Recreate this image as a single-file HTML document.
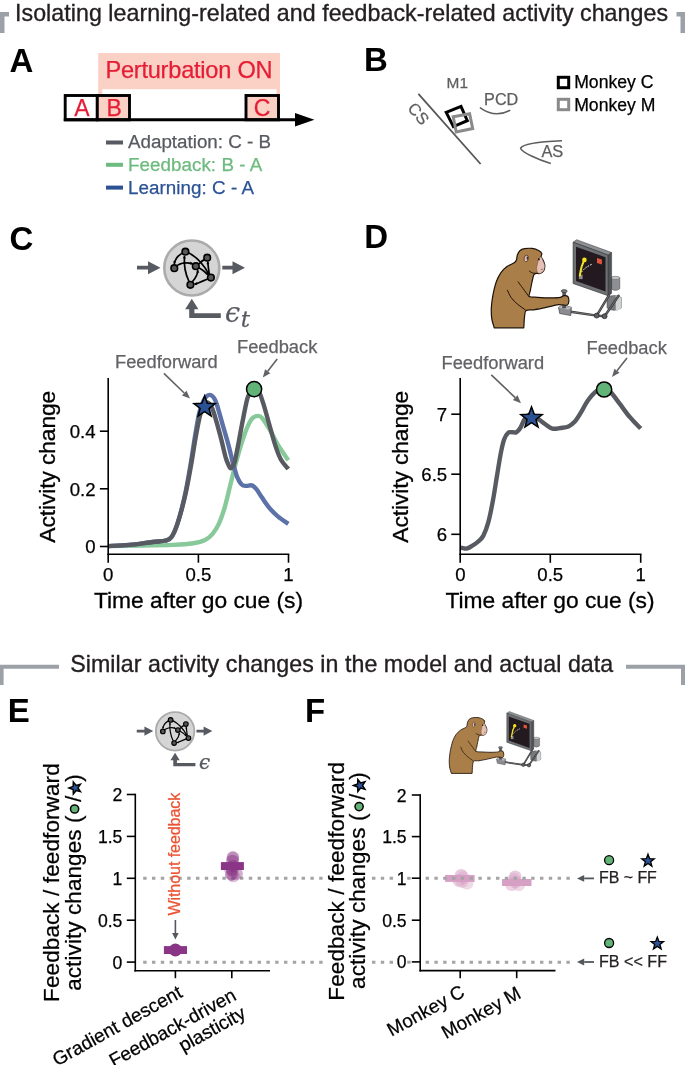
<!DOCTYPE html>
<html><head><meta charset="utf-8"><title>Figure</title>
<style>
html,body{margin:0;padding:0;background:#fff;}
svg{display:block;font-family:"Liberation Sans",sans-serif;}
.h{font-size:23.2px;fill:#231f20;stroke:#231f20;stroke-width:.35px;}
.pl{font-size:33px;font-weight:bold;fill:#000;}
.ax{font-size:22.8px;fill:#000;stroke:#000;stroke-width:.3px;}
.tk{font-size:17.6px;fill:#000;stroke:#000;stroke-width:.25px;}
.tk2{font-size:18.6px;fill:#000;stroke:#000;stroke-width:.25px;}
.an{font-size:18.3px;fill:#626266;stroke:#626266;stroke-width:.25px;}
</style></head><body>
<svg width="685" height="1065" viewBox="0 0 685 1065">
<rect width="685" height="1065" fill="#fff"/>

<path d="M0,33V12H9V16.5H4.5V33Z" fill="#9ba1a6"/>
<path d="M685,33V12H676.5V16.5H680.5V33Z" fill="#9ba1a6"/>
<text class="h" x="15" y="20.6" textLength="653" lengthAdjust="spacing">Isolating learning-related and feedback-related activity changes</text>
<path d="M0,685V664.7H59V668.8H3.6V685Z" fill="#9ba1a6"/>
<path d="M685,685V664.7H626V668.8H681V685Z" fill="#9ba1a6"/>
<text class="h" x="70.2" y="672" textLength="543" lengthAdjust="spacing">Similar activity changes in the model and actual data</text>
<text class="pl" x="9.6" y="71.5">A</text>
<text class="pl" x="364" y="71.3">B</text>
<text class="pl" x="9.6" y="249.5">C</text>
<text class="pl" x="364.3" y="248.4">D</text>
<text class="pl" x="7.8" y="722">E</text>
<text class="pl" x="305" y="722">F</text>
<g id="panelA">
<rect x="98.2" y="53" width="181.8" height="67" fill="#fbd0c5"/>
<rect x="102.2" y="89.2" width="174.3" height="30.8" fill="#fff"/>
<rect x="65.2" y="95.5" width="32.1" height="24.3" fill="#fff" stroke="#000" stroke-width="2.9"/>
<rect x="97.3" y="95.5" width="32.2" height="24.3" fill="#fbd0c5" stroke="#000" stroke-width="2.9"/>
<rect x="246" y="95.5" width="32.5" height="24.3" fill="#fbd0c5" stroke="#000" stroke-width="2.9"/>
<path d="M63.8,119.8H298" stroke="#000" stroke-width="2.9" fill="none"/>
<path d="M295,113.1L314.4,119.8L295,126.5Z" fill="#000"/>
<text x="105.4" y="78.1" font-size="23.6" fill="#e51d35" textLength="167.2" lengthAdjust="spacing" stroke="#e51d35" stroke-width="0.25">Perturbation ON</text>
<text x="81.8" y="116.1" font-size="23" fill="#e51d35" text-anchor="middle" stroke="#e51d35" stroke-width="0.25">A</text>
<text x="114.1" y="116.1" font-size="23" fill="#e51d35" text-anchor="middle" stroke="#e51d35" stroke-width="0.25">B</text>
<text x="262" y="116.1" font-size="23" fill="#e51d35" text-anchor="middle" stroke="#e51d35" stroke-width="0.25">C</text>
<rect x="106" y="140.5" width="17" height="4" fill="#585a62"/>
<text x="128" y="148.3" font-size="18.8" fill="#585a62" textLength="143" lengthAdjust="spacing" stroke="#585a62" stroke-width="0.25">Adaptation: C - B</text>
<rect x="106" y="162.8" width="17" height="4" fill="#6dbb7f"/>
<text x="128" y="170.6" font-size="18.8" fill="#6dbb7f" textLength="134.3" lengthAdjust="spacing" stroke="#6dbb7f" stroke-width="0.25">Feedback: B - A</text>
<rect x="106" y="185.6" width="17" height="4" fill="#2b5295"/>
<text x="128" y="193.6" font-size="18.8" fill="#2b5295" textLength="126.1" lengthAdjust="spacing" stroke="#2b5295" stroke-width="0.25">Learning: C - A</text>
</g>
<g id="panelB">
<path d="M418.4,93.9L480.6,164" stroke="#55565a" stroke-width="1.8" fill="none"/>
<text x="446.6" y="88" font-size="15.4" fill="#5e5e60" stroke="#5e5e60" stroke-width="0.25">M1</text>
<text x="484.1" y="105.3" font-size="16.2" fill="#5e5e60" stroke="#5e5e60" stroke-width="0.25">PCD</text>
<text x="541.4" y="156.8" font-size="16.4" fill="#5e5e60" stroke="#5e5e60" stroke-width="0.25">AS</text>
<text transform="translate(406.8,108.6) rotate(50)" font-size="16.4" fill="#5e5e60" stroke="#5e5e60" stroke-width="0.25">CS</text>
<path d="M479.9,107.6Q495,118.5 510.3,110.2" stroke="#5e5e60" stroke-width="1.5" fill="none"/>
<path d="M562,140.7C540,141.5 523,143.5 520.6,148.2C522,152.5 538,159.5 550.8,163.5" stroke="#5e5e60" stroke-width="1.5" fill="none"/>
<path d="M446.2,112.3L461,106.4L467.3,120.6L453.4,126.6Z" stroke="#000" stroke-width="3" fill="none"/>
<path d="M453.2,116.7L469.6,113.8L472.7,128.5L456.2,132Z" stroke="#8a8a8a" stroke-width="3" fill="none"/>
<rect x="558.3" y="77.3" width="10.4" height="10.4" stroke="#000" stroke-width="3" fill="#fff"/>
<rect x="558.3" y="99.3" width="10.4" height="10.4" stroke="#8a8a8a" stroke-width="3" fill="#fff"/>
<text x="574.2" y="88.3" font-size="17.6" fill="#000" stroke="#000" stroke-width="0.25">Monkey C</text>
<text x="574.2" y="110.5" font-size="17.6" fill="#000" stroke="#000" stroke-width="0.25">Monkey M</text>
</g>
<g transform="translate(0,0)">
<circle cx="191.8" cy="268" r="27.5" fill="#d5d5d5" stroke="#ababab" stroke-width="2.6"/>
<path d="M137,265.8H148V261.2L160.5,267.7L148,274.2V269.6H137Z" fill="#585a62"/>
<path d="M222.3,265.8H232.5V261.2L245,267.7L232.5,274.2V269.6H222.3Z" fill="#585a62"/>
<path d="M191.8,298.8L198.4,309.3H194.4V313.2H220.8V318H189.2V309.3H185.2Z" fill="#585a62"/>
<path d="M185.4,251.7C178.7,254.2 175.0,258.9 174.3,264.0" stroke="#000" stroke-width="1.7" fill="none"/>
<path d="M174.3,264.0L173.1,261.3L176.1,261.6Z" fill="#000"/>
<path d="M174.3,268.2C178.2,263.3 185.7,261.4 192.7,263.9" stroke="#000" stroke-width="1.7" fill="none"/>
<path d="M192.7,263.9L189.8,264.4L190.7,261.6Z" fill="#000"/>
<path d="M188.0,252.4C196.9,257.0 204.4,265.9 208.8,274.1" stroke="#000" stroke-width="1.7" fill="none"/>
<path d="M208.8,274.1L206.2,272.5L208.9,271.1Z" fill="#000"/>
<path d="M189.2,282.0C185.0,273.4 183.8,264.0 184.5,255.8" stroke="#000" stroke-width="1.7" fill="none"/>
<path d="M184.5,255.8L185.8,258.5L182.8,258.3Z" fill="#000"/>
<path d="M192.2,282.0C196.4,277.1 197.9,273.4 197.7,270.1" stroke="#000" stroke-width="1.7" fill="none"/>
<path d="M197.7,270.1L199.3,272.6L196.3,272.8Z" fill="#000"/>
<path d="M208.6,278.5C203.9,280.7 199.3,282.5 194.4,284.4" stroke="#000" stroke-width="1.7" fill="none"/>
<path d="M194.4,284.4L196.3,282.1L197.4,284.9Z" fill="#000"/>
<path d="M209.3,274.3C208.6,269.6 208.0,265.0 207.7,261.4" stroke="#000" stroke-width="1.7" fill="none"/>
<path d="M207.7,261.4L209.4,263.8L206.4,264.2Z" fill="#000"/>
<path d="M198.8,264.0C200.2,262.6 202.1,261.0 204.1,259.6" stroke="#000" stroke-width="1.7" fill="none"/>
<path d="M204.1,259.6L202.9,262.3L201.1,259.9Z" fill="#000"/>
<path d="M198.5,267.6C202.1,269.6 205.3,272.0 208.1,274.8" stroke="#000" stroke-width="1.7" fill="none"/>
<path d="M208.1,274.8L205.2,274.0L207.4,271.9Z" fill="#000"/>
<circle cx="185.4" cy="251.7" r="3.3" fill="#58585b" stroke="#000" stroke-width="1.6"/>
<circle cx="207.2" cy="257.7" r="3.3" fill="#58585b" stroke="#000" stroke-width="1.6"/>
<circle cx="174.3" cy="268.2" r="3.3" fill="#58585b" stroke="#000" stroke-width="1.6"/>
<circle cx="195.8" cy="266.2" r="3.3" fill="#58585b" stroke="#000" stroke-width="1.6"/>
<circle cx="210.9" cy="277.6" r="3.3" fill="#58585b" stroke="#000" stroke-width="1.6"/>
<circle cx="190.4" cy="284.8" r="3.3" fill="#58585b" stroke="#000" stroke-width="1.6"/>
</g>
<text x="225" y="321.5" font-family="'DejaVu Serif','Liberation Serif',serif" font-style="italic" font-size="27" fill="#585a62" stroke="#585a62" stroke-width="0.25">ϵ<tspan font-size="23" dy="5.5" dx="0.5">t</tspan></text>
<g transform="translate(40.84,543.71) scale(0.7)">
<circle cx="191.8" cy="268" r="27.5" fill="#d5d5d5" stroke="#ababab" stroke-width="2.6"/>
<path d="M137,265.8H148V261.2L160.5,267.7L148,274.2V269.6H137Z" fill="#585a62"/>
<path d="M222.3,265.8H232.5V261.2L245,267.7L232.5,274.2V269.6H222.3Z" fill="#585a62"/>
<path d="M191.8,298.8L198.4,309.3H194.4V313.2H220.8V318H189.2V309.3H185.2Z" fill="#585a62"/>
<path d="M185.4,251.7C178.7,254.2 175.0,258.9 174.3,264.0" stroke="#000" stroke-width="1.7" fill="none"/>
<path d="M174.3,264.0L173.1,261.3L176.1,261.6Z" fill="#000"/>
<path d="M174.3,268.2C178.2,263.3 185.7,261.4 192.7,263.9" stroke="#000" stroke-width="1.7" fill="none"/>
<path d="M192.7,263.9L189.8,264.4L190.7,261.6Z" fill="#000"/>
<path d="M188.0,252.4C196.9,257.0 204.4,265.9 208.8,274.1" stroke="#000" stroke-width="1.7" fill="none"/>
<path d="M208.8,274.1L206.2,272.5L208.9,271.1Z" fill="#000"/>
<path d="M189.2,282.0C185.0,273.4 183.8,264.0 184.5,255.8" stroke="#000" stroke-width="1.7" fill="none"/>
<path d="M184.5,255.8L185.8,258.5L182.8,258.3Z" fill="#000"/>
<path d="M192.2,282.0C196.4,277.1 197.9,273.4 197.7,270.1" stroke="#000" stroke-width="1.7" fill="none"/>
<path d="M197.7,270.1L199.3,272.6L196.3,272.8Z" fill="#000"/>
<path d="M208.6,278.5C203.9,280.7 199.3,282.5 194.4,284.4" stroke="#000" stroke-width="1.7" fill="none"/>
<path d="M194.4,284.4L196.3,282.1L197.4,284.9Z" fill="#000"/>
<path d="M209.3,274.3C208.6,269.6 208.0,265.0 207.7,261.4" stroke="#000" stroke-width="1.7" fill="none"/>
<path d="M207.7,261.4L209.4,263.8L206.4,264.2Z" fill="#000"/>
<path d="M198.8,264.0C200.2,262.6 202.1,261.0 204.1,259.6" stroke="#000" stroke-width="1.7" fill="none"/>
<path d="M204.1,259.6L202.9,262.3L201.1,259.9Z" fill="#000"/>
<path d="M198.5,267.6C202.1,269.6 205.3,272.0 208.1,274.8" stroke="#000" stroke-width="1.7" fill="none"/>
<path d="M208.1,274.8L205.2,274.0L207.4,271.9Z" fill="#000"/>
<circle cx="185.4" cy="251.7" r="3.3" fill="#58585b" stroke="#000" stroke-width="1.6"/>
<circle cx="207.2" cy="257.7" r="3.3" fill="#58585b" stroke="#000" stroke-width="1.6"/>
<circle cx="174.3" cy="268.2" r="3.3" fill="#58585b" stroke="#000" stroke-width="1.6"/>
<circle cx="195.8" cy="266.2" r="3.3" fill="#58585b" stroke="#000" stroke-width="1.6"/>
<circle cx="210.9" cy="277.6" r="3.3" fill="#58585b" stroke="#000" stroke-width="1.6"/>
<circle cx="190.4" cy="284.8" r="3.3" fill="#58585b" stroke="#000" stroke-width="1.6"/>
</g>
<text x="199" y="768.6" font-family="'DejaVu Serif','Liberation Serif',serif" font-style="italic" font-size="20" fill="#585a62" stroke="#585a62" stroke-width="0.25">ϵ</text>
<g id="panelC" fill="none" stroke-linejoin="round">
<path d="M108.2,546.1C114.1,546.0 133.0,545.7 143.8,545.5C154.6,545.3 164.7,545.3 173.0,544.9C181.3,544.5 188.1,544.0 193.4,543.2C198.8,542.3 201.9,541.5 205.1,540.0C208.3,538.5 210.1,536.8 212.4,534.1C214.7,531.4 216.7,528.5 218.8,523.9C220.9,519.3 223.0,513.2 225.0,506.4C227.0,499.6 229.1,489.8 230.8,483.0C232.5,476.2 233.5,471.8 235.2,465.5C236.9,459.2 239.1,451.2 241.0,445.1C242.9,439.0 244.8,433.4 246.6,429.0C248.4,424.6 250.0,421.0 251.8,418.8C253.7,416.6 256.0,416.0 257.7,415.9C259.4,415.7 260.1,415.7 262.0,417.9C264.0,420.1 266.7,424.5 269.3,429.0C272.0,433.5 274.9,439.9 278.1,445.1C281.3,450.3 286.6,457.7 288.3,460.3" stroke="#88c99a" stroke-width="4.4"/>
<path d="M108.2,546.1C111.7,545.9 121.8,545.6 129.2,544.9C136.6,544.2 146.5,542.7 152.6,542.0C158.6,541.3 162.5,541.4 165.7,540.5C168.9,539.7 169.6,539.8 171.5,537.0C173.5,534.3 175.2,530.5 177.4,523.9C179.5,517.3 182.3,506.9 184.4,497.6C186.5,488.4 188.1,479.1 189.9,468.4C191.8,457.7 193.9,442.9 195.5,433.4C197.1,423.9 198.1,417.2 199.6,411.5C201.1,405.8 202.9,401.7 204.5,398.9C206.2,396.2 207.9,395.0 209.5,394.9C211.0,394.7 212.7,396.2 213.9,397.8C215.1,399.3 215.3,399.7 216.8,404.2C218.2,408.7 220.7,417.8 222.6,424.6C224.6,431.4 226.8,438.7 228.5,445.1C230.2,451.4 231.4,457.2 232.8,462.6C234.3,467.9 235.8,473.5 237.2,477.2C238.7,480.8 240.1,483.0 241.6,484.5C243.1,485.9 244.3,485.8 246.0,485.9C247.7,486.1 250.1,484.9 251.8,485.4C253.5,485.9 254.5,486.8 256.2,488.9C257.9,490.9 259.9,494.5 262.0,497.6C264.2,500.8 266.7,504.7 269.3,507.8C272.0,511.0 274.9,513.9 278.1,516.6C281.3,519.3 286.6,522.7 288.3,523.9" stroke="#5b71a8" stroke-width="4.4"/>
<path d="M108.2,546.1C111.7,545.9 121.8,545.6 129.2,544.9C136.6,544.2 146.5,542.7 152.6,542.0C158.6,541.3 162.5,541.4 165.7,540.5C168.9,539.7 169.6,539.8 171.5,537.0C173.5,534.3 175.2,530.5 177.4,523.9C179.6,517.3 182.5,506.9 184.7,497.6C186.9,488.4 188.6,479.1 190.5,468.4C192.5,457.7 194.6,442.6 196.4,433.4C198.1,424.1 199.4,417.8 200.7,413.0C202.1,408.1 203.4,405.9 204.5,404.2C205.6,402.4 206.4,402.2 207.4,402.4C208.5,402.7 209.9,403.9 210.9,405.7C212.0,407.4 212.4,408.3 213.9,413.0C215.3,417.6 217.8,426.1 219.7,433.4C221.7,440.7 224.1,451.5 225.5,456.8C227.0,462.0 227.6,463.0 228.5,464.9C229.3,466.9 229.8,468.2 230.5,468.4C231.2,468.6 232.1,467.3 232.8,466.1C233.6,464.9 233.9,465.1 234.9,461.1C235.9,457.1 237.3,449.2 238.7,442.2C240.0,435.1 241.6,426.1 243.1,418.8C244.5,411.5 246.1,403.1 247.4,398.4C248.8,393.6 250.1,391.9 251.2,390.2C252.4,388.5 253.1,388.1 254.2,388.1C255.2,388.1 256.7,389.2 257.7,390.2C258.6,391.2 259.0,391.6 260.0,394.0C261.0,396.3 261.9,399.1 263.5,404.2C265.1,409.3 267.4,417.8 269.3,424.6C271.3,431.4 273.2,439.2 275.2,445.1C277.1,450.9 278.8,455.7 281.0,459.7C283.2,463.7 287.1,467.5 288.3,469.0" stroke="#585a62" stroke-width="4.4"/>
</g>
<g stroke="#000" stroke-width="1.6" fill="none">
<path d="M108.2,378V555"/>
<path d="M107.4,554.2H289.3"/>
<path d="M99.9,431.2H108.2"/>
<path d="M99.9,488.8H108.2"/>
<path d="M99.9,546.5H108.2"/>
<path d="M108.2,554.2V562.7"/>
<path d="M198.4,554.2V562.7"/>
<path d="M288.5,554.2V562.7"/>
</g>
<text class="tk2" x="95.6" y="438.09999999999997" text-anchor="end">0.4</text>
<text class="tk2" x="95.6" y="495.7" text-anchor="end">0.2</text>
<text class="tk2" x="95.6" y="553.4" text-anchor="end">0</text>
<text class="tk2" x="108.2" y="581.2" text-anchor="middle">0</text>
<text class="tk2" x="198.4" y="581.2" text-anchor="middle">0.5</text>
<text class="tk2" x="288.5" y="581.2" text-anchor="middle">1</text>
<text class="ax" x="198.5" y="608" text-anchor="middle" textLength="209" lengthAdjust="spacing">Time after go cue (s)</text>
<text class="ax" transform="translate(55.2,466.7) rotate(-90)" text-anchor="middle" textLength="152" lengthAdjust="spacing">Activity change</text>
<polygon points="204.60,395.80 207.36,403.19 215.25,403.54 209.07,408.45 211.18,416.06 204.60,411.70 198.02,416.06 200.13,408.45 193.95,403.54 201.84,403.19" fill="#2b5295" stroke="#000" stroke-width="1.5" stroke-linejoin="miter"/>
<circle cx="254.1" cy="389.1" r="7.6" fill="#62b377" stroke="#000" stroke-width="1.5"/>
<text class="an" x="115" y="367.9">Feedforward</text>
<text class="an" x="237" y="353.1">Feedback</text>
<path d="M163.9,373.4L184.2,393.0" stroke="#626266" stroke-width="1.6" fill="none"/><path d="M190.0,398.6L182.0,395.4L186.5,390.7Z" fill="#626266"/>
<path d="M277.2,358.9L267.7,371.2" stroke="#626266" stroke-width="1.6" fill="none"/><path d="M262.8,377.5L265.1,369.2L270.3,373.2Z" fill="#626266"/>
<path d="M460.2,547.4C460.9,547.6 462.9,548.2 464.1,548.4C465.3,548.6 466.0,548.8 467.3,548.4C468.6,548.0 470.2,547.0 472.1,545.8C474.0,544.7 476.7,543.1 478.5,541.3C480.4,539.6 481.7,538.7 483.4,535.6C485.0,532.5 486.6,528.6 488.2,522.7C489.8,516.8 491.5,508.3 493.0,500.2C494.5,492.2 495.8,482.6 497.2,474.6C498.5,466.5 499.8,458.0 501.0,452.1C502.2,446.2 503.0,442.4 504.2,439.2C505.4,436.0 506.7,434.0 508.1,432.8C509.4,431.6 510.9,432.3 512.3,432.2C513.6,432.1 515.1,432.9 516.4,432.2C517.8,431.5 519.0,430.0 520.3,428.0C521.6,426.0 522.8,422.1 524.1,420.0C525.5,417.8 526.8,415.9 528.3,415.1C529.8,414.3 531.3,414.3 533.1,415.1C535.0,415.9 537.4,418.4 539.6,420.0C541.7,421.6 543.8,423.3 546.0,424.8C548.1,426.2 550.0,428.1 552.4,428.6C554.8,429.2 557.7,428.4 560.4,428.0C563.1,427.6 566.0,427.5 568.5,426.4C570.9,425.3 572.7,424.0 574.9,421.6C577.0,419.2 579.2,415.4 581.3,411.9C583.4,408.5 585.3,404.1 587.7,400.7C590.1,397.3 593.1,393.7 595.7,391.7C598.4,389.7 601.4,388.5 603.8,388.5C606.2,388.5 607.5,389.1 610.2,391.7C612.9,394.3 616.6,399.7 619.8,403.9C623.0,408.1 626.0,412.6 629.5,416.7C632.9,420.9 638.8,426.6 640.7,428.6" stroke="#585a62" stroke-width="4.4" fill="none" stroke-linejoin="round"/>
<g stroke="#000" stroke-width="1.6" fill="none">
<path d="M460.2,378V555"/>
<path d="M459.4,554.3H641.5"/>
<path d="M451.3,414.2H460.2"/>
<path d="M451.3,474.2H460.2"/>
<path d="M451.3,534.3H460.2"/>
<path d="M460.2,554.3V562.8"/>
<path d="M550.3,554.3V562.8"/>
<path d="M640.7,554.3V562.8"/>
</g>
<text class="tk2" x="447.2" y="421.09999999999997" text-anchor="end">7</text>
<text class="tk2" x="447.2" y="481.09999999999997" text-anchor="end">6.5</text>
<text class="tk2" x="447.2" y="541.1999999999999" text-anchor="end">6</text>
<text class="tk2" x="460.4" y="581.2" text-anchor="middle">0</text>
<text class="tk2" x="550.3" y="581.2" text-anchor="middle">0.5</text>
<text class="tk2" x="640.7" y="581.2" text-anchor="middle">1</text>
<text class="ax" x="550" y="608" text-anchor="middle" textLength="209" lengthAdjust="spacing">Time after go cue (s)</text>
<text class="ax" transform="translate(407.8,466.7) rotate(-90)" text-anchor="middle" textLength="152" lengthAdjust="spacing">Activity change</text>
<polygon points="531.50,406.80 534.26,414.19 542.15,414.54 535.97,419.45 538.08,427.06 531.50,422.70 524.92,427.06 527.03,419.45 520.85,414.54 528.74,414.19" fill="#2b5295" stroke="#000" stroke-width="1.5"/>
<circle cx="604.1" cy="389.5" r="7.6" fill="#62b377" stroke="#000" stroke-width="1.5"/>
<text class="an" x="441.5" y="369">Feedforward</text>
<text class="an" x="586.5" y="353.5">Feedback</text>
<path d="M491.3,374.8L515.2,397.7" stroke="#626266" stroke-width="1.6" fill="none"/><path d="M521.0,403.2L512.9,400.1L517.5,395.3Z" fill="#626266"/>
<path d="M627.0,358.0L617.0,370.7" stroke="#626266" stroke-width="1.6" fill="none"/><path d="M612.0,377.0L614.4,368.7L619.5,372.8Z" fill="#626266"/>
<g id="panelE">
<circle cx="461.2" cy="875.3" r="6.4" fill="#d69fc4" fill-opacity="0.55"/>
<circle cx="459" cy="880.4" r="6.4" fill="#d69fc4" fill-opacity="0.5"/>
<circle cx="467" cy="883.2" r="6.4" fill="#d69fc4" fill-opacity="0.4"/>
<circle cx="462" cy="881.5" r="6.4" fill="#d69fc4" fill-opacity="0.4"/>
<circle cx="463.5" cy="877.5" r="6.4" fill="#d69fc4" fill-opacity="0.35"/>
<rect x="445.1" y="875" width="29.5" height="6.9" fill="#d69fc4"/>
<circle cx="515.2" cy="876.8" r="6.4" fill="#d69fc4" fill-opacity="0.55"/>
<circle cx="511.5" cy="884.6" r="6.4" fill="#d69fc4" fill-opacity="0.45"/>
<circle cx="518.8" cy="884.6" r="6.4" fill="#d69fc4" fill-opacity="0.4"/>
<circle cx="515.2" cy="881.9" r="6.4" fill="#d69fc4" fill-opacity="0.45"/>
<circle cx="514" cy="879.5" r="6.4" fill="#d69fc4" fill-opacity="0.35"/>
<rect x="502" y="879" width="29.5" height="7" fill="#d69fc4"/>
<path d="M143.2,878.3H322.6" stroke="#a4a4a4" stroke-width="3" stroke-dasharray="3.4 5.4" fill="none"/>
<path d="M372,878.3H393" stroke="#a4a4a4" stroke-width="3" stroke-dasharray="3.4 5.4" fill="none"/>
<path d="M407.2,878.3H410.6" stroke="#a4a4a4" stroke-width="3" stroke-dasharray="3.4 5.4" fill="none"/>
<path d="M425.6,878.3H569.8" stroke="#a4a4a4" stroke-width="3" stroke-dasharray="3.4 5.4" fill="none"/>
<path d="M143.2,962.2H322.6" stroke="#a4a4a4" stroke-width="3" stroke-dasharray="3.4 5.4" fill="none"/>
<path d="M372,962.2H393" stroke="#a4a4a4" stroke-width="3" stroke-dasharray="3.4 5.4" fill="none"/>
<path d="M407.2,962.2H410.6" stroke="#a4a4a4" stroke-width="3" stroke-dasharray="3.4 5.4" fill="none"/>
<path d="M425.6,962.2H569.8" stroke="#a4a4a4" stroke-width="3" stroke-dasharray="3.4 5.4" fill="none"/>
<g stroke="#000" stroke-width="1.6" fill="none">
<path d="M135.3,793.7V971.5"/>
<path d="M134.3,970.7H270"/>
<path d="M126.8,794.5H135.3"/>
<path d="M126.8,836.4H135.3"/>
<path d="M126.8,878.3H135.3"/>
<path d="M126.8,920.2H135.3"/>
<path d="M126.8,962.1H135.3"/>
<path d="M175.4,970.7V978.2"/>
<path d="M231.8,970.7V978.2"/>
</g>
<text class="tk" x="122.4" y="801.0" text-anchor="end">2</text>
<text class="tk" x="122.4" y="842.9" text-anchor="end">1.5</text>
<text class="tk" x="122.4" y="884.8" text-anchor="end">1</text>
<text class="tk" x="122.4" y="926.7" text-anchor="end">0.5</text>
<text class="tk" x="122.4" y="968.6" text-anchor="end">0</text>
<circle cx="175.4" cy="950" r="6.5" fill="#8a3585"/>
<rect x="163.9" y="946.1" width="23.1" height="7.9" fill="#8a3585"/>
<circle cx="232.9" cy="857.6" r="6.3" fill="#8a3585" fill-opacity="0.55"/>
<circle cx="232.5" cy="861" r="6.3" fill="#8a3585" fill-opacity="0.5"/>
<circle cx="233" cy="866" r="6.3" fill="#8a3585" fill-opacity="0.5"/>
<circle cx="232.2" cy="870" r="6.3" fill="#8a3585" fill-opacity="0.5"/>
<circle cx="231.4" cy="874.4" r="6.3" fill="#8a3585" fill-opacity="0.55"/>
<circle cx="236.6" cy="873.6" r="6.3" fill="#8a3585" fill-opacity="0.4"/>
<circle cx="233.5" cy="876" r="6.3" fill="#8a3585" fill-opacity="0.3"/>
<circle cx="229.5" cy="868" r="6.3" fill="#8a3585" fill-opacity="0.3"/>
<rect x="220.9" y="862.1" width="23" height="7.9" fill="#8a3585"/>
<text transform="translate(180.4,915.6) rotate(-90)" font-size="16.2" fill="#ea5434" textLength="123" lengthAdjust="spacing" stroke="#ea5434" stroke-width="0.25">Without feedback</text>
<path d="M175.4,920.0L175.4,933.1" stroke="#55575e" stroke-width="1.6" fill="none"/><path d="M175.4,939.5L172.1,933.1L178.7,933.1Z" fill="#55575e"/>
<text transform="translate(183.5,996.3) rotate(-29)" font-size="19" fill="#000" text-anchor="end" stroke="#000" stroke-width="0.25">Gradient descent</text>
<text transform="translate(237.5,999) rotate(-29)" font-size="19" fill="#000" text-anchor="end" stroke="#000" stroke-width="0.25">Feedback-driven</text>
<text transform="translate(247,1017) rotate(-29)" font-size="19" fill="#000" text-anchor="end" stroke="#000" stroke-width="0.25">plasticity</text>
<text transform="translate(59.3,1001.9) rotate(-90)" font-size="22.5" fill="#000" textLength="238.6" lengthAdjust="spacing" stroke="#000" stroke-width="0.25">Feedback / feedforward</text>
<text transform="translate(80.5,990.8) rotate(-90)" font-size="22.5" fill="#000" textLength="175.3" lengthAdjust="spacing" stroke="#000" stroke-width="0.25">activity changes (</text>
<text transform="translate(80.5,801.9) rotate(-90)" font-size="22.5" fill="#000" stroke="#000" stroke-width="0.25">/<tspan dx="13.9">)</tspan></text>
<circle cx="74.6" cy="809.0" r="4.1" fill="#62b377" stroke="#000" stroke-width="1.5"/>
<polygon points="69.00,787.90 73.16,786.34 73.35,781.91 76.12,785.38 80.40,784.20 77.95,787.90 80.40,791.60 76.12,790.42 73.35,793.89 73.16,789.46" fill="#2b5295" stroke="#000" stroke-width="1.5"/>
</g>
<g id="panelF">
<g stroke="#000" stroke-width="1.6" fill="none">
<path d="M420.2,794.2V971.4"/>
<path d="M419.5,970.6H555.5"/>
<path d="M411.8,795H420.3"/>
<path d="M411.8,836.6H420.3"/>
<path d="M411.8,878.2H420.3"/>
<path d="M411.8,920.2H420.3"/>
<path d="M411.8,961.9H420.3"/>
<path d="M460.2,970.6V978.2"/>
<path d="M516.7,970.6V978.2"/>
</g>
<text class="tk" x="406.6" y="801.5" text-anchor="end">2</text>
<text class="tk" x="406.6" y="843.1" text-anchor="end">1.5</text>
<text class="tk" x="406.6" y="884.7" text-anchor="end">1</text>
<text class="tk" x="406.6" y="926.7" text-anchor="end">0.5</text>
<text class="tk" x="406.6" y="968.4" text-anchor="end">0</text>
<text transform="translate(466,995.6) rotate(-29)" font-size="18.9" fill="#000" text-anchor="end" stroke="#000" stroke-width="0.25">Monkey C</text>
<text transform="translate(522.3,997) rotate(-29)" font-size="18.9" fill="#000" text-anchor="end" stroke="#000" stroke-width="0.25">Monkey M</text>
<text transform="translate(343.6,1000.7) rotate(-90)" font-size="22.5" fill="#000" textLength="238.6" lengthAdjust="spacing" stroke="#000" stroke-width="0.25">Feedback / feedforward</text>
<text transform="translate(365,988.9) rotate(-90)" font-size="22.5" fill="#000" textLength="175.3" lengthAdjust="spacing" stroke="#000" stroke-width="0.25">activity changes (</text>
<text transform="translate(365,800.0) rotate(-90)" font-size="22.5" fill="#000" stroke="#000" stroke-width="0.25">/<tspan dx="13.9">)</tspan></text>
<circle cx="359.1" cy="806.6" r="4.1" fill="#62b377" stroke="#000" stroke-width="1.5"/>
<polygon points="353.50,785.50 357.66,783.94 357.85,779.51 360.62,782.98 364.90,781.80 362.45,785.50 364.90,789.20 360.62,788.02 357.85,791.49 357.66,787.06" fill="#2b5295" stroke="#000" stroke-width="1.5"/>
<path d="M594.0,878.4L584.2,878.4" stroke="#55575e" stroke-width="1.8" fill="none"/><path d="M577.0,878.4L584.2,875.0L584.2,881.8Z" fill="#55575e"/>
<path d="M594.0,962.0L584.2,962.0" stroke="#55575e" stroke-width="1.8" fill="none"/><path d="M577.0,962.0L584.2,958.6L584.2,965.4Z" fill="#55575e"/>
<text x="599" y="883.2" font-size="15.9" fill="#231f20" stroke="#231f20" stroke-width="0.25">FB ~ FF</text>
<text x="599" y="966.6" font-size="16.1" fill="#231f20" stroke="#231f20" stroke-width="0.25">FB &lt;&lt; FF</text>
<circle cx="609.1" cy="860.2" r="4.5" fill="#62b377" stroke="#000" stroke-width="1.3"/>
<polygon points="648.00,854.20 649.63,858.56 654.28,858.76 650.64,861.66 651.88,866.14 648.00,863.57 644.12,866.14 645.36,861.66 641.72,858.76 646.37,858.56" fill="#2b5295" stroke="#000" stroke-width="1.3"/>
<circle cx="609.1" cy="943" r="4.5" fill="#62b377" stroke="#000" stroke-width="1.3"/>
<polygon points="657.30,937.00 658.93,941.36 663.58,941.56 659.94,944.46 661.18,948.94 657.30,946.37 653.42,948.94 654.66,944.46 651.02,941.56 655.67,941.36" fill="#2b5295" stroke="#000" stroke-width="1.3"/>
</g>
<g transform="translate(0,0)" stroke-linejoin="round">
<path d="M611.1,277.6V288.7Q615.4,292.2 619.8,288.7V277.6Z" fill="#8d8f92" stroke="#444" stroke-width="0.5"/>
<ellipse cx="615.4" cy="277.9" rx="4.4" ry="1.6" fill="#c4c6c8" stroke="#555" stroke-width="0.5"/>
<path d="M607.0,297.5V308.0Q614.0,312.7 621.3,308.0V297.5Q614.0,293.4 607.0,297.5Z" fill="#77797c" stroke="#444" stroke-width="0.5"/>
<path d="M615.7,295.7V310.9Q619.2,310.3 621.3,308.0V297.5Z" fill="#d0d2d4"/>
<polygon points="573.1,242.2 576.6,239.7 611.6,252.5 608.1,255.1" fill="#8e9194" stroke="#333" stroke-width="0.5"/>
<polygon points="608.1,255.1 611.6,252.5 611.6,293.4 608.1,295.7" fill="#505356" stroke="#333" stroke-width="0.5"/>
<polygon points="573.1,242.2 608.1,255.1 608.1,295.7 573.1,283.5" fill="#6e7174" stroke="#2a2a2a" stroke-width="0.6"/>
<polygon points="576.0,246.7 605.5,257.2 605.5,291.6 576.0,281.1" fill="#231a1f"/>
<rect x="578.9" y="274.7" width="3.7" height="4.4" fill="#8a8c8f"/>
<path d="M579.8,275.6Q580.9,266.5 584.4,259.9" stroke="#f4e51f" stroke-width="1.9" fill="none" stroke-linecap="round"/>
<circle cx="584.4" cy="259.9" r="2.3" fill="#f4e51f"/>
<path d="M581.6,272.1Q584.2,267.7 592.4,264.0" stroke="#fff" stroke-width="1" stroke-dasharray="1.7 1.1" fill="none"/>
<polygon points="597.0,258.1 601.9,259.5 601.9,264.4 597.0,263.0" fill="#e2553a"/>
<path d="M569.0,311.5L596.7,315.6" stroke="#3a3a3c" stroke-width="2.4" stroke-linecap="round"/>
<path d="M569.0,311.5L596.7,315.6" stroke="#77797c" stroke-width="0.9" stroke-linecap="round"/>
<path d="M596.7,315.6L609.0,295.1" stroke="#3a3a3c" stroke-width="2.4" stroke-linecap="round"/>
<path d="M596.7,315.6L609.0,295.1" stroke="#77797c" stroke-width="0.9" stroke-linecap="round"/>
<path d="M604.6,316.2L618.6,295.7" stroke="#3a3a3c" stroke-width="2.4" stroke-linecap="round"/>
<path d="M604.6,316.2L618.6,295.7" stroke="#77797c" stroke-width="0.9" stroke-linecap="round"/>
<path d="M596.7,315.6L604.6,316.2" stroke="#3a3a3c" stroke-width="2.4" stroke-linecap="round"/>
<path d="M596.7,315.6L604.6,316.2" stroke="#77797c" stroke-width="0.9" stroke-linecap="round"/>
<circle cx="596.7" cy="315.6" r="2.5" fill="#5c5e61" stroke="#222" stroke-width="0.7"/>
<circle cx="604.6" cy="316.2" r="2.5" fill="#5c5e61" stroke="#222" stroke-width="0.7"/>
<polygon points="558.5,307.4 562.0,305.1 571.4,307.2 570.8,315.6 559.7,313.5" fill="#8a8c8f" stroke="#333" stroke-width="0.6"/>
<polygon points="558.5,307.4 562.0,305.1 571.4,307.2 568.4,309.7" fill="#b5b7ba"/>
<rect x="562.7" y="291.6" width="3.0" height="16.4" fill="#58595b" stroke="#222" stroke-width="0.4"/>
<ellipse cx="564.2" cy="291.1" rx="3.0" ry="1.6" fill="#77797c" stroke="#222" stroke-width="0.5"/>
<path d="M494.2,327.8C493.9,326.5 492.2,321.6 491.8,318.8C491.4,316.1 491.2,311.6 491.3,308.3C491.5,305.0 492.2,298.9 492.9,295.2C493.6,291.5 495.1,285.2 496.2,282.0C497.3,278.9 499.2,275.1 500.8,272.8C502.3,270.6 505.4,267.7 507.3,266.3C509.3,264.8 513.3,263.5 514.6,262.6C515.9,261.7 516.1,260.8 516.5,259.7C516.9,258.7 516.9,256.4 517.3,255.1C517.8,253.9 518.8,251.7 519.8,250.8C520.8,249.9 522.7,249.0 524.4,248.7C526.2,248.3 530.3,248.2 532.3,248.4C534.3,248.7 537.3,249.8 538.6,250.5C539.9,251.2 541.4,252.5 541.8,253.4C542.1,254.3 540.9,255.8 541.1,256.8C541.3,257.9 543.0,259.8 543.5,261.0C544.0,262.3 544.8,264.2 544.8,265.6C544.8,267.0 544.3,269.8 543.6,270.9C542.9,272.0 541.0,273.2 539.9,273.5C538.9,273.9 536.9,273.1 536.0,273.4C535.1,273.6 534.2,274.0 533.6,275.2C533.1,276.4 532.5,279.9 532.0,282.0C531.6,284.2 530.7,288.6 530.3,290.6C530.0,292.6 528.4,295.6 529.4,296.5C530.4,297.4 534.6,297.1 537.6,297.3C540.5,297.5 547.5,297.8 550.7,297.8C553.9,297.8 558.7,297.6 560.5,297.3C562.4,297.0 562.8,295.8 563.8,295.7C564.8,295.6 567.1,295.7 567.8,296.5C568.5,297.3 568.9,300.3 568.8,301.5C568.7,302.7 568.6,304.7 567.1,305.2C565.7,305.6 561.8,304.3 558.6,304.6C555.4,305.0 547.6,307.1 544.1,307.8C540.6,308.5 536.2,309.4 533.6,309.8C531.1,310.1 527.3,309.4 526.0,310.4C524.7,311.4 524.9,314.4 524.5,316.9C524.2,319.3 523.9,326.2 523.8,327.8Z" fill="#aa7e48" stroke="#1e1208" stroke-width="1.2"/>
<path d="M538.6,258.7C539.0,258.4 540.6,256.8 541.2,257.1C541.8,257.4 542.6,259.9 543.1,261.0C543.5,262.2 544.7,264.3 544.8,265.6C544.9,266.9 544.2,269.8 543.6,270.9C543.0,271.9 540.7,273.3 539.9,273.5C539.1,273.7 537.9,273.0 537.4,272.3C537.0,271.6 536.6,269.4 536.6,268.2C536.7,267.1 537.3,264.7 537.6,263.4C537.8,262.1 538.5,259.3 538.6,258.7Z" fill="#e5c0b8" stroke="#5a3a2a" stroke-width="0.4"/>
<ellipse cx="526.3" cy="258.4" rx="2.1" ry="3.4" fill="#e5c0b8" stroke="#2e1c0c" stroke-width="0.6" transform="rotate(12 526.3 258.4)"/>
<ellipse cx="527.3" cy="258.1" rx="0.7" ry="1.8" fill="#3a2a2a"/>
<ellipse cx="538.9" cy="259.2" rx="0.8" ry="1.2" fill="#1a1010"/>
<path d="M517.8,281.4C518.7,282.6 521.2,286.1 523.1,288.6C525.0,291.2 528.0,295.4 529.0,296.8" stroke="#1e1208" stroke-width="1" fill="none"/>
<path d="M507.3,289.9C508.0,291.2 509.5,295.4 511.3,297.8C513.0,300.2 515.4,302.3 517.8,304.4C520.3,306.4 524.4,309.2 525.7,310.2" stroke="#1e1208" stroke-width="1" fill="none"/>
<path d="M529.0,270.9C529.6,271.2 531.1,272.4 532.3,272.8C533.5,273.3 535.4,273.3 536.0,273.4" stroke="#1e1208" stroke-width="1" fill="none"/>
<path d="M540.8,269.6L542.8,269.2" stroke="#5a3a2a" stroke-width="0.6" fill="none"/>
</g>
<g transform="translate(103.88,542.95) scale(0.703)" stroke-linejoin="round">
<path d="M611.1,277.6V288.7Q615.4,292.2 619.8,288.7V277.6Z" fill="#8d8f92" stroke="#444" stroke-width="0.5"/>
<ellipse cx="615.4" cy="277.9" rx="4.4" ry="1.6" fill="#c4c6c8" stroke="#555" stroke-width="0.5"/>
<path d="M607.0,297.5V308.0Q614.0,312.7 621.3,308.0V297.5Q614.0,293.4 607.0,297.5Z" fill="#77797c" stroke="#444" stroke-width="0.5"/>
<path d="M615.7,295.7V310.9Q619.2,310.3 621.3,308.0V297.5Z" fill="#d0d2d4"/>
<polygon points="573.1,242.2 576.6,239.7 611.6,252.5 608.1,255.1" fill="#8e9194" stroke="#333" stroke-width="0.5"/>
<polygon points="608.1,255.1 611.6,252.5 611.6,293.4 608.1,295.7" fill="#505356" stroke="#333" stroke-width="0.5"/>
<polygon points="573.1,242.2 608.1,255.1 608.1,295.7 573.1,283.5" fill="#6e7174" stroke="#2a2a2a" stroke-width="0.6"/>
<polygon points="576.0,246.7 605.5,257.2 605.5,291.6 576.0,281.1" fill="#231a1f"/>
<rect x="578.9" y="274.7" width="3.7" height="4.4" fill="#8a8c8f"/>
<path d="M579.8,275.6Q580.9,266.5 584.4,259.9" stroke="#f4e51f" stroke-width="1.9" fill="none" stroke-linecap="round"/>
<circle cx="584.4" cy="259.9" r="2.3" fill="#f4e51f"/>
<path d="M581.6,272.1Q584.2,267.7 592.4,264.0" stroke="#fff" stroke-width="1" stroke-dasharray="1.7 1.1" fill="none"/>
<polygon points="597.0,258.1 601.9,259.5 601.9,264.4 597.0,263.0" fill="#e2553a"/>
<path d="M569.0,311.5L596.7,315.6" stroke="#3a3a3c" stroke-width="2.4" stroke-linecap="round"/>
<path d="M569.0,311.5L596.7,315.6" stroke="#77797c" stroke-width="0.9" stroke-linecap="round"/>
<path d="M596.7,315.6L609.0,295.1" stroke="#3a3a3c" stroke-width="2.4" stroke-linecap="round"/>
<path d="M596.7,315.6L609.0,295.1" stroke="#77797c" stroke-width="0.9" stroke-linecap="round"/>
<path d="M604.6,316.2L618.6,295.7" stroke="#3a3a3c" stroke-width="2.4" stroke-linecap="round"/>
<path d="M604.6,316.2L618.6,295.7" stroke="#77797c" stroke-width="0.9" stroke-linecap="round"/>
<path d="M596.7,315.6L604.6,316.2" stroke="#3a3a3c" stroke-width="2.4" stroke-linecap="round"/>
<path d="M596.7,315.6L604.6,316.2" stroke="#77797c" stroke-width="0.9" stroke-linecap="round"/>
<circle cx="596.7" cy="315.6" r="2.5" fill="#5c5e61" stroke="#222" stroke-width="0.7"/>
<circle cx="604.6" cy="316.2" r="2.5" fill="#5c5e61" stroke="#222" stroke-width="0.7"/>
<polygon points="558.5,307.4 562.0,305.1 571.4,307.2 570.8,315.6 559.7,313.5" fill="#8a8c8f" stroke="#333" stroke-width="0.6"/>
<polygon points="558.5,307.4 562.0,305.1 571.4,307.2 568.4,309.7" fill="#b5b7ba"/>
<rect x="562.7" y="291.6" width="3.0" height="16.4" fill="#58595b" stroke="#222" stroke-width="0.4"/>
<ellipse cx="564.2" cy="291.1" rx="3.0" ry="1.6" fill="#77797c" stroke="#222" stroke-width="0.5"/>
<path d="M494.2,327.8C493.9,326.5 492.2,321.6 491.8,318.8C491.4,316.1 491.2,311.6 491.3,308.3C491.5,305.0 492.2,298.9 492.9,295.2C493.6,291.5 495.1,285.2 496.2,282.0C497.3,278.9 499.2,275.1 500.8,272.8C502.3,270.6 505.4,267.7 507.3,266.3C509.3,264.8 513.3,263.5 514.6,262.6C515.9,261.7 516.1,260.8 516.5,259.7C516.9,258.7 516.9,256.4 517.3,255.1C517.8,253.9 518.8,251.7 519.8,250.8C520.8,249.9 522.7,249.0 524.4,248.7C526.2,248.3 530.3,248.2 532.3,248.4C534.3,248.7 537.3,249.8 538.6,250.5C539.9,251.2 541.4,252.5 541.8,253.4C542.1,254.3 540.9,255.8 541.1,256.8C541.3,257.9 543.0,259.8 543.5,261.0C544.0,262.3 544.8,264.2 544.8,265.6C544.8,267.0 544.3,269.8 543.6,270.9C542.9,272.0 541.0,273.2 539.9,273.5C538.9,273.9 536.9,273.1 536.0,273.4C535.1,273.6 534.2,274.0 533.6,275.2C533.1,276.4 532.5,279.9 532.0,282.0C531.6,284.2 530.7,288.6 530.3,290.6C530.0,292.6 528.4,295.6 529.4,296.5C530.4,297.4 534.6,297.1 537.6,297.3C540.5,297.5 547.5,297.8 550.7,297.8C553.9,297.8 558.7,297.6 560.5,297.3C562.4,297.0 562.8,295.8 563.8,295.7C564.8,295.6 567.1,295.7 567.8,296.5C568.5,297.3 568.9,300.3 568.8,301.5C568.7,302.7 568.6,304.7 567.1,305.2C565.7,305.6 561.8,304.3 558.6,304.6C555.4,305.0 547.6,307.1 544.1,307.8C540.6,308.5 536.2,309.4 533.6,309.8C531.1,310.1 527.3,309.4 526.0,310.4C524.7,311.4 524.9,314.4 524.5,316.9C524.2,319.3 523.9,326.2 523.8,327.8Z" fill="#aa7e48" stroke="#1e1208" stroke-width="1.2"/>
<path d="M538.6,258.7C539.0,258.4 540.6,256.8 541.2,257.1C541.8,257.4 542.6,259.9 543.1,261.0C543.5,262.2 544.7,264.3 544.8,265.6C544.9,266.9 544.2,269.8 543.6,270.9C543.0,271.9 540.7,273.3 539.9,273.5C539.1,273.7 537.9,273.0 537.4,272.3C537.0,271.6 536.6,269.4 536.6,268.2C536.7,267.1 537.3,264.7 537.6,263.4C537.8,262.1 538.5,259.3 538.6,258.7Z" fill="#e5c0b8" stroke="#5a3a2a" stroke-width="0.4"/>
<ellipse cx="526.3" cy="258.4" rx="2.1" ry="3.4" fill="#e5c0b8" stroke="#2e1c0c" stroke-width="0.6" transform="rotate(12 526.3 258.4)"/>
<ellipse cx="527.3" cy="258.1" rx="0.7" ry="1.8" fill="#3a2a2a"/>
<ellipse cx="538.9" cy="259.2" rx="0.8" ry="1.2" fill="#1a1010"/>
<path d="M517.8,281.4C518.7,282.6 521.2,286.1 523.1,288.6C525.0,291.2 528.0,295.4 529.0,296.8" stroke="#1e1208" stroke-width="1" fill="none"/>
<path d="M507.3,289.9C508.0,291.2 509.5,295.4 511.3,297.8C513.0,300.2 515.4,302.3 517.8,304.4C520.3,306.4 524.4,309.2 525.7,310.2" stroke="#1e1208" stroke-width="1" fill="none"/>
<path d="M529.0,270.9C529.6,271.2 531.1,272.4 532.3,272.8C533.5,273.3 535.4,273.3 536.0,273.4" stroke="#1e1208" stroke-width="1" fill="none"/>
<path d="M540.8,269.6L542.8,269.2" stroke="#5a3a2a" stroke-width="0.6" fill="none"/>
</g>
</svg></body></html>
